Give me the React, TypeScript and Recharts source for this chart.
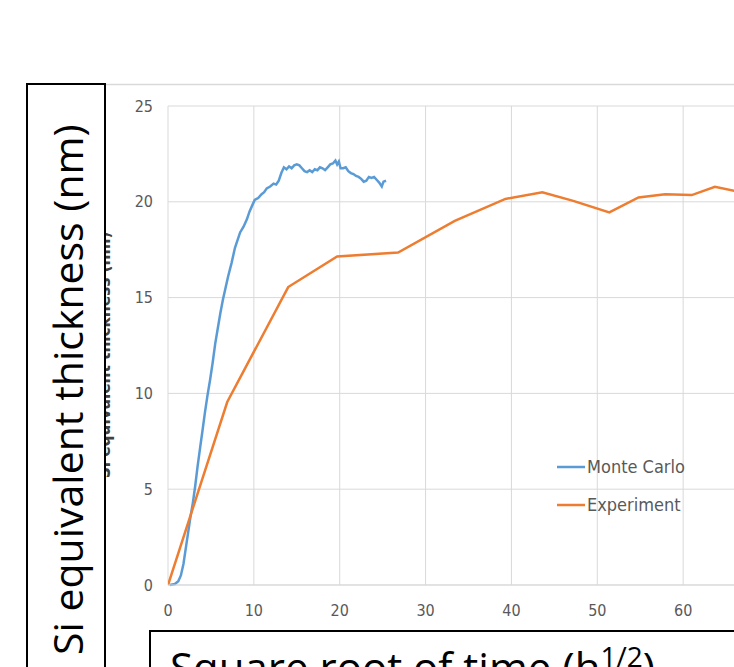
import { CartesianGrid, Line, LineChart, XAxis, YAxis } from "recharts";

// Monte Carlo simulation (sqrt of time, thickness)
const mcX = [
    0.2, 0.8, 1.2, 1.5, 1.8, 2.0, 2.3, 2.6, 2.9, 3.15, 3.45, 3.75, 4.0, 4.3, 4.6, 4.9, 5.2, 5.5, 5.8, 6.1,
    6.4, 6.7, 7.0, 7.4, 7.8, 8.1, 8.4, 8.8, 9.2, 9.5, 9.8, 10.1, 10.5, 10.9, 11.2, 11.5, 11.9, 12.3, 12.6, 12.9,
    13.2, 13.5, 13.8, 14.1, 14.4, 14.7, 15.0, 15.3, 15.6, 15.9, 16.2, 16.5, 16.8, 17.1, 17.4, 17.7, 18.0, 18.3,
    18.6, 18.9, 19.2, 19.5, 19.7, 19.9, 20.1, 20.4, 20.7, 21.0, 21.3, 21.6, 21.9, 22.2, 22.5, 22.8, 23.1, 23.4,
    23.7, 24.0, 24.3, 24.6, 24.9, 25.1, 25.4,
];
const mcY = [
    0, 0.05, 0.2, 0.5, 1.1, 1.7, 2.6, 3.5, 4.3, 5.1, 6.2, 7.2, 8.0, 9.0, 9.9, 10.7, 11.6, 12.6, 13.4, 14.2,
    14.9, 15.5, 16.1, 16.8, 17.6, 18.0, 18.4, 18.7, 19.1, 19.5, 19.8, 20.1, 20.2, 20.4, 20.5, 20.7, 20.8, 20.95, 20.9, 21.1,
    21.5, 21.8, 21.7, 21.85, 21.75, 21.9, 21.95, 21.9, 21.75, 21.6, 21.55, 21.65, 21.55, 21.7, 21.65, 21.8, 21.75, 21.65,
    21.8, 21.95, 22.0, 22.15, 21.95, 22.1, 21.75, 21.75, 21.8, 21.6, 21.5, 21.45, 21.35, 21.3, 21.2, 21.05, 21.1, 21.3,
    21.25, 21.3, 21.15, 21.0, 20.8, 21.05, 21.1,
];

// Experiment
const expX = [0, 6.9, 14.0, 19.7, 26.8, 33.4, 39.3, 43.6, 47.2, 51.4, 54.8, 57.9, 61.0, 63.7, 66.0];
const expY = [0, 9.55, 15.55, 17.15, 17.35, 19.0, 20.15, 20.5, 20.05, 19.45, 20.23, 20.4, 20.35, 20.78, 20.57];

const xTicks = [0, 10, 20, 30, 40, 50, 60, 70];
const yTicks = [0, 5, 10, 15, 20, 25];

const seriesNames = ["Monte Carlo", "Experiment"];
const colors = ["#5B9BD5", "#ED7D31"];

const mcData = mcX.map((x, i) => ({ x, y: mcY[i] }));
const expData = expX.map((x, i) => ({ x, y: expY[i] }));

const narrow = "'Liberation Sans Narrow', 'DejaVu Sans Condensed', sans-serif";
const bigFont = "'Open Sans', sans-serif";

const App = () => {
    return (
        <div style={{ position: "absolute", left: 0, top: 0, width: 734, height: 667, overflow: "hidden", background: "#fff" }}>
            <div style={{ position: "absolute", left: 0, top: 0 }}>
                <LineChart
                    width={780}
                    height={667}
                    margin={{ top: 106, right: 11, left: 108, bottom: 52 }}
                >
                    <CartesianGrid stroke="#d9d9d9" strokeWidth={1} />
                    <XAxis
                        type="number"
                        dataKey="x"
                        domain={[0, 70]}
                        ticks={xTicks}
                        height={30}
                        tickLine={false}
                        axisLine={{ stroke: "#d9d9d9" }}
                        tickSize={0}
                        tickMargin={20}
                        tick={{ fill: "#595959", fontSize: 16, fontFamily: narrow }}
                        allowDataOverflow
                    />
                    <YAxis
                        type="number"
                        dataKey="y"
                        domain={[0, 25]}
                        ticks={yTicks}
                        width={60}
                        tickLine={false}
                        axisLine={false}
                        tickSize={0}
                        tickMargin={15}
                        tick={{ fill: "#595959", fontSize: 16, fontFamily: narrow }}
                    />
                    <Line
                        data={mcData}
                        dataKey="y"
                        name={seriesNames[0]}
                        stroke={colors[0]}
                        strokeWidth={2.5}
                        dot={false}
                        isAnimationActive={false}
                    />
                    <Line
                        data={expData}
                        dataKey="y"
                        name={seriesNames[1]}
                        stroke={colors[1]}
                        strokeWidth={2.5}
                        dot={false}
                        isAnimationActive={false}
                    />
                </LineChart>
            </div>
            <svg width={734} height={667} style={{ position: "absolute", left: 0, top: 0, pointerEvents: "none" }}>
                {/* legend */}
                {seriesNames.map((name, i) => (
                    <g key={name}>
                        <line x1={557} x2={585} y1={467 + i * 38} y2={467 + i * 38} stroke={colors[i]} strokeWidth={2.5} />
                        <text x={587} y={467 + i * 38} dy="0.35em" fontSize={18} fill="#595959" fontFamily={narrow}>
                            {name}
                        </text>
                    </g>
                ))}
                <line x1={105} x2={734} y1={84.5} y2={84.5} stroke="#d9d9d9" strokeWidth={1.5} />
                {/* original small axis title, mostly hidden behind the box */}
                <text
                    transform="translate(110, 355) rotate(-90)"
                    textAnchor="middle"
                    fontSize={17}
                    fontWeight="bold"
                    fill="#404040"
                    fontFamily={narrow}
                >
                    Si equivalent thickness (nm)
                </text>
                <rect x={27} y={84} width={78} height={600} fill="#fff" stroke="#000" strokeWidth={2} />
                <text
                    transform="translate(83, 655) rotate(-90)"
                    fontSize={41}
                    fill="#000"
                    fontFamily={bigFont}
                >
                    Si equivalent thickness (nm)
                </text>
                <rect x={150} y={631} width={620} height={80} fill="#fff" stroke="#000" strokeWidth={2} />
                <text x={170} y={683} fontSize={42} fill="#000" fontFamily={bigFont}>
                    Square root of time (h
                    <tspan fontSize={28} dy={-16}>1/2</tspan>
                    <tspan dy={16}>)</tspan>
                </text>
            </svg>
        </div>
    );
};

export default App;
